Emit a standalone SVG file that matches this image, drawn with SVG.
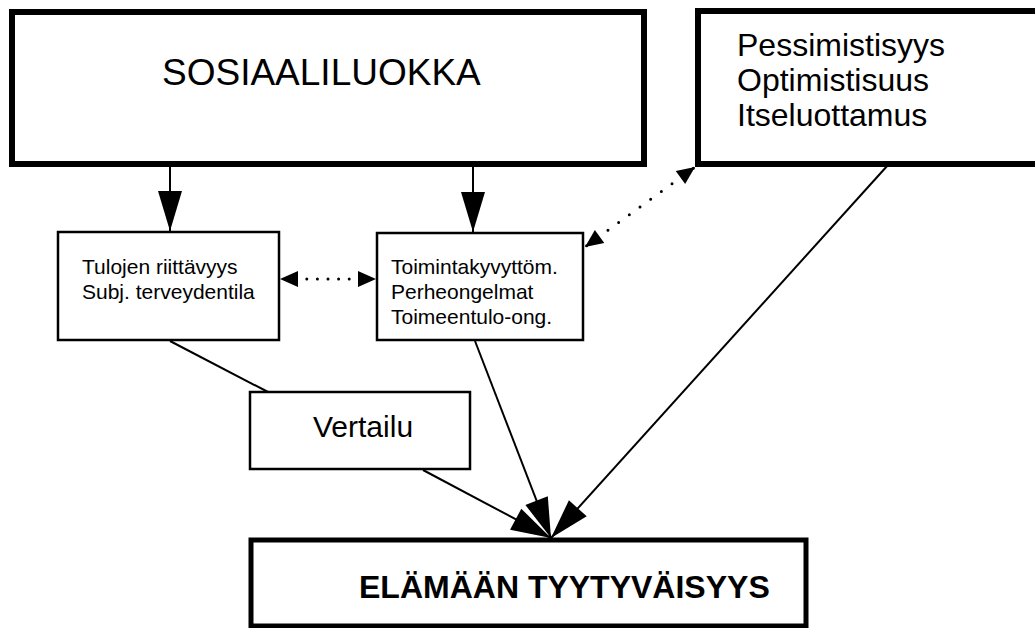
<svg xmlns="http://www.w3.org/2000/svg" width="1035" height="628" viewBox="0 0 1035 628">
<style>
.txt{font-family:"Liberation Sans",Arial,sans-serif;fill:#000}
.thick{fill:#fff;stroke:#000;stroke-width:6}
.thin{fill:#fff;stroke:#000;stroke-width:2.5}
.conn{fill:none;stroke:#000;stroke-width:2}
.dot{fill:none;stroke:#000;stroke-width:3;stroke-linecap:round}
</style>
<defs>
<marker id="ah" markerUnits="userSpaceOnUse" markerWidth="40" markerHeight="24" refX="40" refY="12" orient="auto" overflow="visible">
<path d="M0,0 L40,12 L0,24 z" fill="#000"/>
</marker>
<marker id="sh" markerUnits="userSpaceOnUse" markerWidth="18" markerHeight="16" refX="18" refY="8" orient="auto-start-reverse" overflow="visible">
<path d="M0,0 L18,8 L0,16 z" fill="#000"/>
</marker>
</defs>
<g id="sosiaaliluokka">
<rect class="thick" x="12" y="12" width="632" height="152"/>
<text class="txt" x="162" y="85" font-size="37">SOSIAALILUOKKA</text>
</g>
<g id="persoonallisuus">
<rect class="thick" x="698" y="11" width="345" height="153"/>
<text class="txt" font-size="32"><tspan x="737" y="56">Pessimistisyys</tspan><tspan x="737" y="91">Optimistisuus</tspan><tspan x="737" y="126">Itseluottamus</tspan></text>
</g>
<g id="tulot">
<rect class="thin" x="58" y="232" width="221" height="108"/>
<text class="txt" font-size="21"><tspan x="82" y="274">Tulojen riittävyys</tspan><tspan x="82" y="299">Subj. terveydentila</tspan></text>
</g>
<g id="ongelmat">
<rect class="thin" x="377" y="233" width="206" height="107"/>
<text class="txt" font-size="21"><tspan x="391" y="274">Toimintakyvyttöm.</tspan><tspan x="391" y="299">Perheongelmat</tspan><tspan x="391" y="324">Toimeentulo-ong.</tspan></text>
</g>
<g id="vertailu">
<rect class="thin" x="250" y="392" width="220" height="77"/>
<text class="txt" x="313" y="437" font-size="30">Vertailu</text>
</g>
<g id="tyytyvaisyys">
<rect class="thick" x="251" y="540" width="555" height="86" style="stroke-width:5"/>
<text class="txt" x="359" y="598" font-size="32" font-weight="bold">ELÄMÄÄN TYYTYVÄISYYS</text>
</g>
<g id="connectors">
<line class="conn" x1="170" y1="166" x2="170" y2="231" marker-end="url(#ah)"/>
<line class="conn" x1="473" y1="166" x2="473" y2="232" marker-end="url(#ah)"/>
<path class="dot" d="M280,279 L376,279" stroke-dasharray="0 10.6" stroke-dashoffset="-5.6" marker-start="url(#sh)" marker-end="url(#sh)"/>
<path class="dot" d="M585,247 L695,167" stroke-dasharray="0 13.2" stroke-dashoffset="-2" marker-start="url(#sh)" marker-end="url(#sh)"/>
<line class="conn" x1="170" y1="341" x2="268" y2="392"/>
<line class="conn" x1="423" y1="470" x2="551" y2="538" marker-end="url(#ah)"/>
<line class="conn" x1="475" y1="341" x2="551" y2="538" marker-end="url(#ah)"/>
<line class="conn" x1="888" y1="165" x2="551" y2="538" marker-end="url(#ah)"/>
</g>
</svg>
